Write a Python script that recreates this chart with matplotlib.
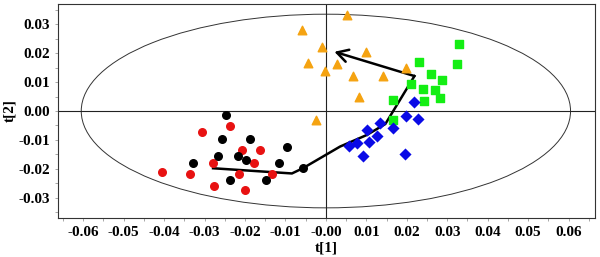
import matplotlib.pyplot as plt
import numpy as np
from matplotlib.patches import Ellipse
from matplotlib.ticker import MultipleLocator

# score plot values
black_x = [-0.0247, -0.0258, -0.0187, -0.0268, -0.0218, -0.0197, -0.0329, -0.0117, -0.0097, -0.0238, -0.0148, -0.0057]
black_y = [-0.0014, -0.0098, -0.0098, -0.0155, -0.0155, -0.0170, -0.0181, -0.0181, -0.0126, -0.0239, -0.0239, -0.0198]

red_x = [-0.0238, -0.0307, -0.0208, -0.0162, -0.0279, -0.0178, -0.0405, -0.0335, -0.0214, -0.0134, -0.0276, -0.0199]
red_y = [-0.0051, -0.0073, -0.0134, -0.0134, -0.0181, -0.0181, -0.0210, -0.0217, -0.0217, -0.0218, -0.0260, -0.0273]

orange_x = [0.0053, -0.0060, -0.0009, 0.0098, -0.0045, 0.0027, -0.0002, 0.0068, 0.0140, 0.0082, -0.0025, 0.0199]
orange_y = [0.0332, 0.0280, 0.0222, 0.0203, 0.0165, 0.0162, 0.0139, 0.0122, 0.0120, 0.0047, -0.0031, 0.0150]

green_x = [0.0328, 0.0231, 0.0323, 0.0261, 0.0288, 0.0210, 0.0241, 0.0271, 0.0281, 0.0167, 0.0242, 0.0167]
green_y = [0.0232, 0.0168, 0.0162, 0.0129, 0.0107, 0.0092, 0.0075, 0.0072, 0.0046, 0.0038, 0.0034, -0.0031]

blue_x = [0.0058, 0.0077, 0.0102, 0.0106, 0.0126, 0.0134, 0.0092, 0.0165, 0.0197, 0.0227, 0.0195, 0.0218]
blue_y = [-0.0120, -0.0110, -0.0066, -0.0108, -0.0085, -0.0042, -0.0155, -0.0060, -0.0016, -0.0029, -0.0150, 0.0030]

# trajectory
path_x = [-0.0279, -0.0084, -0.0057, 0.0035, 0.0101, 0.0147, 0.0219]
path_y = [-0.0198, -0.0216, -0.0198, -0.0123, -0.0083, -0.0045, 0.0121]
arrow_end = (0.0021, 0.0205)

# Hotelling ellipse
ell_a = 0.0605
ell_b = 0.0335

plt.rcParams['font.family'] = ['Liberation Serif', 'DejaVu Serif']
plt.rcParams['font.weight'] = 'bold'

fig = plt.figure(figsize=(6, 2.57), dpi=100)
ax = fig.add_axes([0.097, 0.153, 0.895, 0.830])

ax.add_patch(Ellipse((0, 0), 2 * ell_a, 2 * ell_b, fill=False, ec='#333333', lw=0.7))
ax.axhline(0, color='#222222', lw=0.8, zorder=1)
ax.axvline(0, color='#222222', lw=0.8, zorder=1)

ax.plot(path_x, path_y, color='black', lw=1.8, zorder=2)
ax.annotate('', xy=arrow_end, xytext=(path_x[-1], path_y[-1]),
            arrowprops=dict(arrowstyle='->,head_length=0.8,head_width=0.45', color='black', lw=1.8,
                            shrinkA=0, shrinkB=0), zorder=2)

ax.scatter(red_x, red_y, s=30, marker='o', color='#e81212', zorder=3)
ax.scatter(black_x, black_y, s=30, marker='o', color='black', zorder=3)
ax.scatter(orange_x, orange_y, s=38, marker='^', color='#f5a311', zorder=3)
ax.scatter(green_x, green_y, s=26, marker='s', color='#14ee14', zorder=3)
ax.scatter(blue_x, blue_y, s=38, marker='D', color='#0a0ae6', zorder=3, linewidths=0)

ax.set_xlim(-0.0662, 0.0666)
ax.set_ylim(-0.0369, 0.0369)
ax.xaxis.set_major_locator(MultipleLocator(0.01))
ax.xaxis.set_minor_locator(MultipleLocator(0.005))
ax.yaxis.set_major_locator(MultipleLocator(0.01))
ax.yaxis.set_minor_locator(MultipleLocator(0.005))
ax.xaxis.set_major_formatter(lambda v, p: '-0.00' if abs(v) < 1e-9 else f'{v:.2f}')
ax.yaxis.set_major_formatter(lambda v, p: '0.00' if abs(v) < 1e-9 else f'{v:.2f}')
ax.tick_params(which='both', direction='out', length=2, width=0.6, color='#999999', labelsize=11, pad=4)

for s in ax.spines.values():
    s.set_color('#333333')
    s.set_linewidth(0.8)

ax.set_xlabel('t[1]', fontsize=11, fontweight='bold', labelpad=2)
ax.set_ylabel('t[2]', fontsize=11, fontweight='bold', labelpad=1)

fig.savefig('out.png', dpi=100)
